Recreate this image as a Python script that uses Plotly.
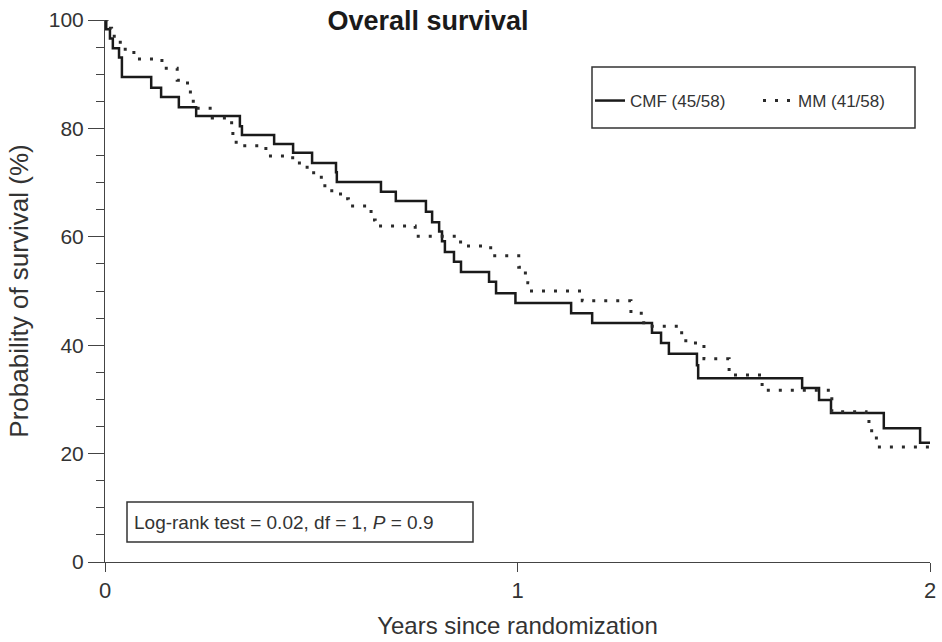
import plotly.graph_objects as go

# ---- data (Kaplan-Meier step curves) ----
cmf_years = [0, 0.003, 0.012, 0.019, 0.034, 0.041, 0.112, 0.136, 0.179, 0.221, 0.327, 0.332,
             0.410, 0.456, 0.502, 0.560, 0.562, 0.669, 0.705, 0.778, 0.793, 0.810, 0.817, 0.824,
             0.846, 0.863, 0.931, 0.948, 0.995, 1.130, 1.181, 1.326, 1.348, 1.367, 1.435, 1.438,
             1.690, 1.731, 1.760, 1.888, 1.976, 2.0]
cmf_surv = [100, 98.3, 96.6, 94.8, 93.1, 89.5, 87.5, 85.8, 83.9, 82.3, 80.4, 78.8,
            77.1, 75.5, 73.6, 71.9, 70.1, 68.3, 66.6, 64.6, 62.7, 61.0, 59.2, 57.2,
            55.4, 53.5, 51.7, 49.6, 47.8, 45.9, 44.1, 42.3, 40.4, 38.4, 36.3, 33.9,
            32.1, 29.9, 27.5, 24.7, 22.0, 22.0]

mm_years = [0, 0.006, 0.016, 0.032, 0.041, 0.070, 0.138, 0.175, 0.200, 0.207, 0.214, 0.260,
            0.307, 0.310, 0.318, 0.390, 0.455, 0.490, 0.519, 0.533, 0.557, 0.575, 0.590,
            0.637, 0.645, 0.655, 0.752, 0.862, 0.935, 1.003, 1.015, 1.025, 1.030, 1.157,
            1.275, 1.300, 1.306, 1.398, 1.408, 1.452, 1.513, 1.593, 1.762, 1.845, 1.852,
            1.870, 2.0]
mm_surv = [100, 98.5, 97.0, 95.9, 94.6, 92.8, 91.1, 88.9, 86.7, 85.4, 83.7, 81.9,
           80.3, 78.2, 76.8, 74.9, 73.6, 71.8, 71.0, 68.5, 67.9, 67.0, 65.7,
           65.1, 63.1, 62.0, 60.1, 58.3, 56.5, 54.4, 53.3, 51.5, 50.0, 48.2,
           45.9, 45.0, 43.5, 41.9, 40.4, 37.5, 34.5, 31.7, 27.7, 26.6, 24.2,
           21.2, 21.2]

series_names = ["CMF (45/58)", "MM (41/58)"]
title_text = "Overall survival"
x_title = "Years since randomization"
y_title = "Probability of survival (%)"
x_ticks = [0, 1, 2]
y_ticks = [0, 20, 40, 60, 80, 100]
test_text = "Log-rank test = 0.02, df = 1, <i>P</i> = 0.9"

FONT = "Liberation Sans, Arial, sans-serif"
TXT = "#333333"

fig = go.Figure()
fig.add_trace(go.Scatter(x=cmf_years, y=cmf_surv, mode="lines", name=series_names[0],
                         line=dict(shape="hv", color="#1a1a1a", width=2.5)))
fig.add_trace(go.Scatter(x=mm_years, y=mm_surv, mode="lines", name=series_names[1],
                         line=dict(shape="hv", color="#2a2a2a", width=3, dash="3px,9px")))

fig.update_layout(
    width=942, height=642,
    margin=dict(l=105, r=12, t=20, b=80),
    paper_bgcolor="white", plot_bgcolor="white",
    font=dict(family=FONT, color=TXT),
    title=dict(text="<b>" + title_text + "</b>", xref="container", yref="container",
               x=428 / 942, y=1 - 21 / 642, xanchor="center", yanchor="middle",
               font=dict(size=27, color="#1a1a1a")),
    showlegend=True,
    legend=dict(orientation="h", x=(590 - 105) / 825, xanchor="left",
                y=(562 - 101) / 542, yanchor="middle", entrywidth=123,
                bgcolor="rgba(0,0,0,0)", borderwidth=0,
                font=dict(size=17, color=TXT)),
    xaxis=dict(range=[0, 2], tickvals=x_ticks, ticktext=[str(v) for v in x_ticks],
               automargin=False,
               showline=True, linecolor="#444444", linewidth=1, showgrid=False, zeroline=False,
               ticks="outside", ticklen=9, tickcolor="#444444",
               tickfont=dict(size=22, color=TXT),
               title=dict(text=x_title, font=dict(size=24, color=TXT), standoff=14)),
    yaxis=dict(range=[0, 100], tickvals=y_ticks, automargin=False,
               showline=True, linecolor="#444444", linewidth=1, showgrid=False, zeroline=False,
               ticks="outside", ticklen=16, tickcolor="#444444",
               minor=dict(dtick=5, ticks="outside", ticklen=8, tickcolor="#444444"),
               tickfont=dict(size=21, color=TXT),
               title=dict(text=y_title, font=dict(size=26, color=TXT), standoff=12)),
    shapes=[
        dict(type="rect", xref="paper", yref="paper",
             x0=(592 - 105) / 825, x1=(915 - 105) / 825,
             y0=(562 - 128) / 542, y1=(562 - 67) / 542,
             line=dict(color="#333333", width=1.5)),
        dict(type="rect", xref="paper", yref="paper",
             x0=(127 - 105) / 825, x1=(473 - 105) / 825,
             y0=(562 - 542) / 542, y1=(562 - 502) / 542,
             line=dict(color="#333333", width=1.5)),
    ],
    annotations=[
        dict(text=test_text, xref="paper", yref="paper",
             x=(132 - 105) / 825, y=(562 - 522) / 542, xanchor="left", yanchor="middle",
             showarrow=False, font=dict(size=19, color=TXT)),
    ],
)

fig.write_html("out.html", config={"displayModeBar": False},
               post_script="document.body.style.margin='0';document.body.style.overflow='hidden';")
